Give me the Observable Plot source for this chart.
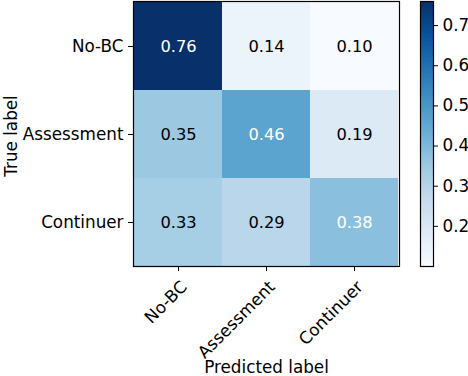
<!DOCTYPE html>
<html>
<head>
<meta charset="utf-8">
<script src="https://cdn.jsdelivr.net/npm/d3@7"></script>
<script src="https://cdn.jsdelivr.net/npm/@observablehq/plot@0.6"></script>
<style>
  html, body { margin: 0; padding: 0; background: #fff; }
  #wrap { position: relative; width: 468px; height: 376px; overflow: hidden; font-family: "DejaVu Sans", sans-serif; }
  #wrap svg { position: absolute; top: 0; font-family: "DejaVu Sans", sans-serif; }
</style>
</head>
<body>
<div id="wrap"></div>
<script>
const labels = ["No-BC", "Assessment", "Continuer"];
const rowNoBC = [0.76, 0.14, 0.10];
const rowAssessment = [0.35, 0.46, 0.19];
const rowContinuer = [0.33, 0.29, 0.38];
const colorTicks = [0.2, 0.3, 0.4, 0.5, 0.6, 0.7];
const blues = ["#f7fbff","#deebf7","#c6dbef","#9ecae1","#6baed6","#4292c6","#2171b5","#08519c","#08306b"];

const rows = [rowNoBC, rowAssessment, rowContinuer];
const cells = [];
rows.forEach((r, i) => r.forEach((v, j) => cells.push({true: labels[i], pred: labels[j], v})));
const vmin = d3.min(cells, d => d.v), vmax = d3.max(cells, d => d.v);
const thresh = vmax / 2;
const colorDomain = blues.map((_, i) => vmin + (vmax - vmin) * i / (blues.length - 1));
const colorScale = {type: "linear", domain: colorDomain, range: blues, interpolate: "rgb"};

const FS = 16.8;

const heat = Plot.plot({
  width: 410, height: 376,
  marginLeft: 133, marginRight: 11, marginTop: 1, marginBottom: 110,
  style: {fontFamily: "DejaVu Sans, sans-serif", fontSize: FS + "px", color: "#000", background: "transparent"},
  x: {type: "band", domain: labels, padding: 0, label: null},
  y: {type: "band", domain: labels, padding: 0, label: null},
  color: colorScale,
  marks: [
    Plot.cell(cells, {x: "pred", y: "true", fill: "v", inset: 0}),
    Plot.text(cells, {x: "pred", y: "true", text: d => d.v.toFixed(2), fill: d => d.v >= thresh ? "#fff" : "#000", fontSize: 16.3}),
    Plot.frame({stroke: "#000", strokeWidth: 1.2}),
    Plot.axisY({tickSize: 5, tickPadding: 5, fontSize: FS, label: null}),
    Plot.axisX({anchor: "bottom", tickSize: 5, tickFormat: () => "", label: null}),
    Plot.text(labels, {x: d => d, frameAnchor: "bottom", textAnchor: "end", lineAnchor: "top", rotate: -45, dx: 1, dy: 13, fontSize: FS, fill: "#000"}),
    Plot.text(["Predicted label"], {frameAnchor: "bottom", dy: 106, fontSize: FS, lineAnchor: "bottom"}),
    Plot.text(["True label"], {frameAnchor: "left", textAnchor: "middle", dx: -128, dy: 2, rotate: -90, fontSize: FS, lineAnchor: "top"})
  ]
});
heat.style.left = "0px";
document.getElementById("wrap").appendChild(heat);

const nSteps = 200;
const strips = d3.range(nSteps).map(i => ({
  y1: vmin + (vmax - vmin) * i / nSteps,
  y2: vmin + (vmax - vmin) * (i + 1) / nSteps
}));

const bar = Plot.plot({
  width: 58, height: 376,
  marginLeft: 10, marginRight: 35, marginTop: 1, marginBottom: 110,
  style: {fontFamily: "DejaVu Sans, sans-serif", fontSize: FS + "px", color: "#000", background: "transparent"},
  x: {domain: [0, 1], axis: null},
  y: {domain: [vmin, vmax], label: null},
  color: colorScale,
  marks: [
    Plot.rect(strips, {x1: 0, x2: 1, y1: "y1", y2: "y2", fill: d => (d.y1 + d.y2) / 2, shapeRendering: "crispEdges"}),
    Plot.frame({stroke: "#000", strokeWidth: 1.2}),
    Plot.axisY({anchor: "right", ticks: colorTicks, tickFormat: d => d.toFixed(1), tickSize: 4, tickPadding: 5, fontSize: FS, label: null})
  ]
});
bar.style.left = "410px";
document.getElementById("wrap").appendChild(bar);
</script>
</body>
</html>
